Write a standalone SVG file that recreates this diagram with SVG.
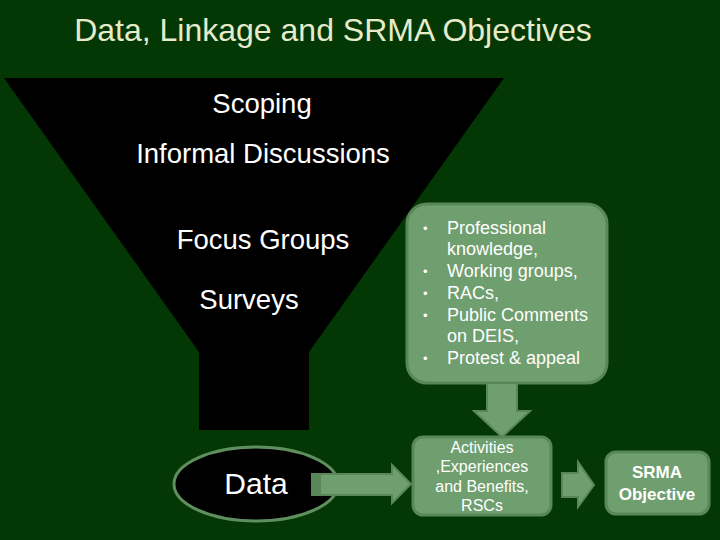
<svg xmlns="http://www.w3.org/2000/svg" width="720" height="540" viewBox="0 0 720 540">
<style>
  text { font-family: "Liberation Sans", Arial, sans-serif; fill: #ffffff; }
  .title { fill: #e6ebcc; font-size: 32px; }
  .funnel { font-size: 27.5px; }
  .box { fill: #6f9e6f; stroke: #5a875a; stroke-width: 3; }
  .arrow { fill: #6f9e6f; stroke: #5a875a; stroke-width: 2; }
  .list { font-size: 18px; }
  .dot { font-size: 13px; }
  .small { font-size: 16px; }
  .bold { font-size: 17px; font-weight: bold; }
</style>
<rect width="720" height="540" fill="#033703"/>
<text class="title" x="333" y="41" text-anchor="middle">Data, Linkage and SRMA Objectives</text>

<g id="funnel">
  <polygon points="4,78 504,78 309,352 309,430 199,430 199,352" fill="#000000"/>
  <text class="funnel" x="262" y="113" text-anchor="middle">Scoping</text>
  <text class="funnel" x="263" y="163" text-anchor="middle">Informal Discussions</text>
  <text class="funnel" x="263" y="249" text-anchor="middle">Focus Groups</text>
  <text class="funnel" x="249" y="309" text-anchor="middle">Surveys</text>
</g>

<g id="data">
  <ellipse cx="256" cy="484" rx="82" ry="37" fill="#000000" stroke="#5f8f5f" stroke-width="3"/>
  <text x="256" y="494" font-size="30" text-anchor="middle">Data</text>
</g>

<g id="sources">
  <rect class="box" x="407" y="204" width="200" height="179" rx="20"/>
  <g class="list">
    <text class="dot" x="423" y="233">•</text><text x="447" y="234">Professional</text>
    <text x="447" y="255">knowledge,</text>
    <text class="dot" x="423" y="276">•</text><text x="447" y="277">Working groups,</text>
    <text class="dot" x="423" y="298">•</text><text x="447" y="299">RACs,</text>
    <text class="dot" x="423" y="320">•</text><text x="447" y="321">Public Comments</text>
    <text x="447" y="342">on DEIS,</text>
    <text class="dot" x="423" y="363">•</text><text x="447" y="364">Protest &amp; appeal</text>
  </g>
</g>

<g id="activities">
  <rect class="box" x="413" y="437" width="138" height="78" rx="10"/>
  <text class="small" x="482" y="453" text-anchor="middle">Activities</text>
  <text class="small" x="482" y="472" text-anchor="middle">,Experiences</text>
  <text class="small" x="482" y="492" text-anchor="middle">and Benefits,</text>
  <text class="small" x="482" y="511" text-anchor="middle">RSCs</text>
</g>

<g id="srma">
  <rect class="box" x="606" y="452" width="103" height="62" rx="10"/>
  <text class="bold" x="657" y="478" text-anchor="middle">SRMA</text>
  <text class="bold" x="657" y="500" text-anchor="middle">Objective</text>
</g>

<g id="connectors">
  <polygon class="arrow" points="487,383 517,383 517,411 530,411 502,437 474,411 487,411"/>
  <polygon class="arrow" points="312,474 392,474 392,465 411,484 392,503 392,495 312,495"/>
  <rect x="312" y="474" width="9" height="21" fill="#5a875a"/>
  <polygon class="arrow" points="562,473 578,473 578,462 594,485 578,507 578,497 562,497"/>
</g>
</svg>
